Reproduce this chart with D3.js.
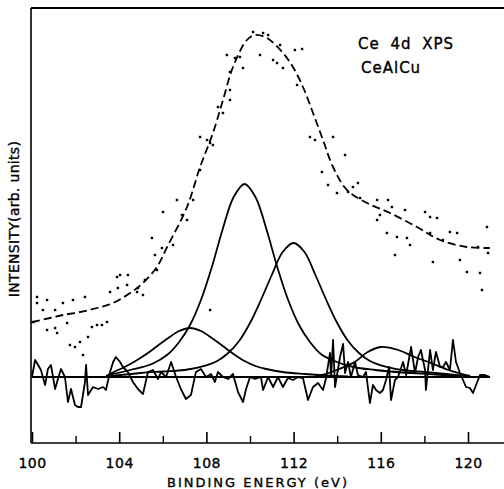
<!DOCTYPE html>
<html>
<head>
<meta charset="utf-8">
<script src="https://cdn.jsdelivr.net/npm/d3@7"></script>
<style>
  html, body { margin: 0; padding: 0; background: #fff; }
  svg { display: block; font-family: "DejaVu Sans", sans-serif; }
  svg text { stroke: #000; stroke-width: 0.35px; fill: #000; }
</style>
</head>
<body>
<div id="chart"></div>
<script>
// Ce 4d XPS of CeAlCu: fitted components, envelope, data points and residual
// values are [binding energy (eV), intensity (arb. units)], zero = component baseline

const xTicks = [100, 104, 108, 112, 116, 120];
const xMinor = [102, 106, 110, 114, 118];

const peakA = [[103.5,2],[104.5,7],[105.5,13],[106.25,23],[106.75,35],[107.25,52],[107.75,77],
  [108.25,110],[108.75,148],[109.25,180],[109.75,193],[110.25,180],[110.75,148],[111.25,110],
  [111.75,77],[112.25,52],[112.75,35],[113.25,23],[113.75,17],[114.75,10],[115.75,7],
  [117,4.5],[118.5,2.5],[119.8,0.5]];

const peakB = [[103.6,1],[105,4],[106,5.5],[107,7],[108,11.7],[108.5,16],[109,24],[109.5,36],
  [110,54],[110.5,77],[111,102],[111.5,125],[112,134],[112.5,125],[113,102],[113.5,77],
  [114,54],[114.5,36],[115,24],[115.5,16],[116,11.7],[117,7],[118,5],[119,3],[120,1]];

const peakC = [[103.4,1],[103.75,5],[104.25,10],[104.75,16],[105.25,23],[105.75,31],[106.25,39],
  [106.75,46],[107.25,49],[107.75,46],[108.25,39],[108.75,31],[109.25,23],[109.75,16],
  [110.25,11],[110.75,8],[111.5,5],[112.5,3],[113.5,1.5],[114.5,0.5]];

const peakD = [[113,1],[113.45,3],[114.1,8],[114.8,15],[115.4,25],[116,30],[116.8,27],
  [117.55,20],[118.3,14],[119.1,7],[119.55,4],[120.1,1]];

const envelope = [[100,55],[100.83,59],[101.42,62],[102.2,65],[102.98,69],[103.72,74],[104.5,84],
  [105.09,94],[105.73,110],[106.2,130],[107.11,170],[107.71,210],[108.3,244],[108.76,277],
  [109.22,310],[109.86,337],[110.23,342],[110.78,339],[111.51,324],[111.97,310],[112.43,290],
  [112.89,264],[113.35,237],[113.81,210],[114.45,187],[115.37,174],[116.42,164],[117.66,150],
  [118.72,137],[119.95,130],[121.0,129]];

const points = [[100.23,80],[100.23,74],[100.5,67],[100.69,77],[100.69,47],[101.06,67],[101.06,49],
  [101.15,44],[101.42,74],[101.61,54],[101.74,32],[101.88,77],[101.97,30],[102.2,35],[102.34,22],
  [102.43,80],[102.57,40],[102.75,50],[102.98,52],[103.21,52],[103.44,55],[103.58,85],[103.9,100],
  [103.94,89],[104.04,102],[104.36,92],[104.4,102],[104.82,85],[104.86,89],[105.09,82],[105.18,97],
  [105.5,139],[105.64,122],[105.73,107],[105.96,129],[106.01,165],[106.47,132],[106.65,177],
  [106.88,162],[107.11,157],[107.39,177],[107.71,240],[107.71,207],[108.03,237],[108.17,234],
  [108.3,232],[108.53,270],[108.76,264],[108.94,322],[109.08,305],[109.08,287],[109.08,277],
  [109.31,319],[109.54,320],[109.68,309],[110.14,345],[110.46,322],[110.6,344],[110.83,342],
  [111.06,317],[111.24,314],[111.38,332],[111.51,309],[112.06,327],[112.16,292],[112.39,328],
  [112.75,240],[112.98,237],[113.3,205],[113.58,192],[113.81,240],[113.99,184],[114.36,222],
  [114.5,185],[114.72,190],[114.95,194],[115.05,179],[115.83,177],[115.83,157],[115.96,162],
  [116.28,144],[116.33,177],[116.51,170],[116.65,122],[116.74,140],[117.11,167],[117.2,139],
  [117.34,132],[118.03,165],[118.26,160],[118.26,144],[118.39,115],[118.58,159],[118.85,137],
  [119.17,145],[119.5,144],[119.63,117],[119.95,105],[120.46,130],[120.55,104],[120.64,87],
  [120.87,150],[120.92,124],[108.17,67]];

const residual = [[100,0],[100.14,17],[100.28,12],[100.41,7],[100.6,-8],[100.73,8],[100.87,12],
  [101.06,-12],[101.19,-2],[101.33,8],[101.51,0],[101.65,-25],[101.79,-12],[101.97,-28],
  [102.11,-30],[102.25,-30],[102.43,-5],[102.48,12],[102.57,-18],[102.8,-10],[103.03,-12],
  [103.26,-10],[103.39,-13],[103.58,5],[103.72,15],[103.85,20],[104.04,15],[104.17,10],
  [104.4,5],[104.63,-5],[104.86,-12],[105.09,-17],[105.32,5],[105.55,7],[105.78,-2],[105.92,5],
  [106.15,0],[106.38,15],[106.61,0],[106.83,-12],[107.06,-22],[107.29,-18],[107.52,5],
  [107.75,8],[107.98,0],[108.21,3],[108.39,-5],[108.53,5],[108.76,0],[108.99,-2],[109.22,3],
  [109.45,-15],[109.68,-25],[109.82,-12],[110,0],[110.23,-2],[110.5,0],[110.6,-13],[110.83,0],
  [111.06,-10],[111.28,0],[111.51,-10],[111.74,-1],[111.97,-3],[112.2,0],[112.43,-1],
  [112.66,-23],[112.89,-10],[113.12,-6],[113.35,-13],[113.49,-1],[113.67,24],[113.72,0],
  [113.81,37],[113.9,-10],[114.13,20],[114.27,33],[114.36,4],[114.5,15],[114.63,0],[114.82,15],
  [114.95,2],[115.18,0],[115.32,5],[115.5,-26],[115.64,-8],[115.78,-13],[115.96,-16],
  [116.1,-13],[116.24,-3],[116.38,10],[116.47,-23],[116.65,-3],[116.79,0],[117.02,15],
  [117.16,2],[117.39,30],[117.57,4],[117.71,20],[117.84,27],[118.03,7],[118.07,-13],[118.26,27],
  [118.39,7],[118.53,25],[118.72,10],[118.85,10],[118.99,15],[119.17,7],[119.31,37],[119.45,15],
  [119.63,4],[119.77,-3],[119.91,-10],[120.09,-11],[120.23,-16],[120.37,-8],[120.55,2],
  [120.78,2],[121.01,0]];

const width = 504, height = 489;
const svg = d3.select("#chart").append("svg")
  .attr("width", width).attr("height", height);

const x = d3.scaleLinear().domain([100, 120]).range([32, 468]);
const y = d3.scaleLinear().domain([-66, 369]).range([443, 8]);

// frame: left, bottom and top lines (right side open)
svg.append("line").attr("x1", 31).attr("x2", 31).attr("y1", y(369)).attr("y2", y(-66))
  .attr("stroke", "#000").attr("stroke-width", 1.6);
svg.append("line").attr("x1", 31).attr("x2", width).attr("y1", y(-66)).attr("y2", y(-66))
  .attr("stroke", "#000").attr("stroke-width", 1.6);
svg.append("line").attr("x1", 31).attr("x2", width).attr("y1", y(369)).attr("y2", y(369))
  .attr("stroke", "#000").attr("stroke-width", 2);

// bottom axis, ticks pointing inward
const xAxis = svg.append("g").attr("transform", `translate(0,${y(-66)})`)
  .call(d3.axisBottom(x).tickValues(xTicks).tickSizeInner(-11).tickSizeOuter(0)
    .tickPadding(15).tickFormat(d3.format("d")));
xAxis.select(".domain").remove();
xAxis.selectAll("line").attr("stroke-width", 1.6);
xAxis.selectAll("text").style("font-size", "14px").style("font-family", "DejaVu Sans")
  .style("letter-spacing", "0.5px");

const xMinorAxis = svg.append("g").attr("transform", `translate(0,${y(-66)})`)
  .call(d3.axisBottom(x).tickValues(xMinor).tickSizeInner(-7).tickSizeOuter(0).tickFormat(""));
xMinorAxis.select(".domain").remove();
xMinorAxis.selectAll("line").attr("stroke-width", 1.4);

// left axis: short inward ticks
const yAxis = svg.append("g").attr("transform", "translate(31,0)")
  .call(d3.axisLeft(y).tickValues([55]).tickSizeInner(-4).tickSizeOuter(0).tickFormat(""));
yAxis.select(".domain").remove();
yAxis.selectAll("line").attr("stroke-width", 1.4);

// zero line of the components
svg.append("line").attr("x1", x(100)).attr("x2", x(121)).attr("y1", y(0)).attr("y2", y(0))
  .attr("stroke", "#000").attr("stroke-width", 2.2);

const line = d3.line().x((d) => x(d[0])).y((d) => y(d[1]));
const smooth = d3.line().x((d) => x(d[0])).y((d) => y(d[1])).curve(d3.curveCatmullRom.alpha(0.5));

// residual
svg.append("path").datum(residual).attr("d", line)
  .attr("fill", "none").attr("stroke", "#000").attr("stroke-width", 1.8)
  .attr("stroke-linejoin", "round");

// fitted components
[peakA, peakB, peakC, peakD].forEach((pk) => {
  svg.append("path").datum(pk).attr("d", smooth)
    .attr("fill", "none").attr("stroke", "#000").attr("stroke-width", 1.8);
});

// envelope (dashed)
svg.append("path").datum(envelope).attr("d", smooth)
  .attr("fill", "none").attr("stroke", "#000").attr("stroke-width", 1.8)
  .attr("stroke-dasharray", "8,4");

// data points
svg.append("g").selectAll("rect").data(points).join("rect")
  .attr("x", (d) => x(d[0]) - 1.2).attr("y", (d) => y(d[1]) - 1.2)
  .attr("width", 2.4).attr("height", 2.4).attr("fill", "#000");

// labels
svg.append("text").attr("x", 358).attr("y", 49)
  .style("font-size", "15px").style("letter-spacing", "1px").style("word-spacing", "5px")
  .text("Ce 4d XPS");
svg.append("text").attr("x", 361).attr("y", 73)
  .style("font-size", "15px").style("letter-spacing", "1px")
  .text("CeAlCu");

svg.append("text").attr("x", 258).attr("y", 487).attr("text-anchor", "middle")
  .style("font-size", "13px").style("letter-spacing", "2px")
  .text("BINDING ENERGY (eV)");

svg.append("text").attr("transform", "translate(19,219) rotate(-90)")
  .attr("text-anchor", "middle")
  .style("font-size", "14px").style("letter-spacing", "0.3px")
  .text("INTENSITY(arb. units)");
</script>
</body>
</html>
